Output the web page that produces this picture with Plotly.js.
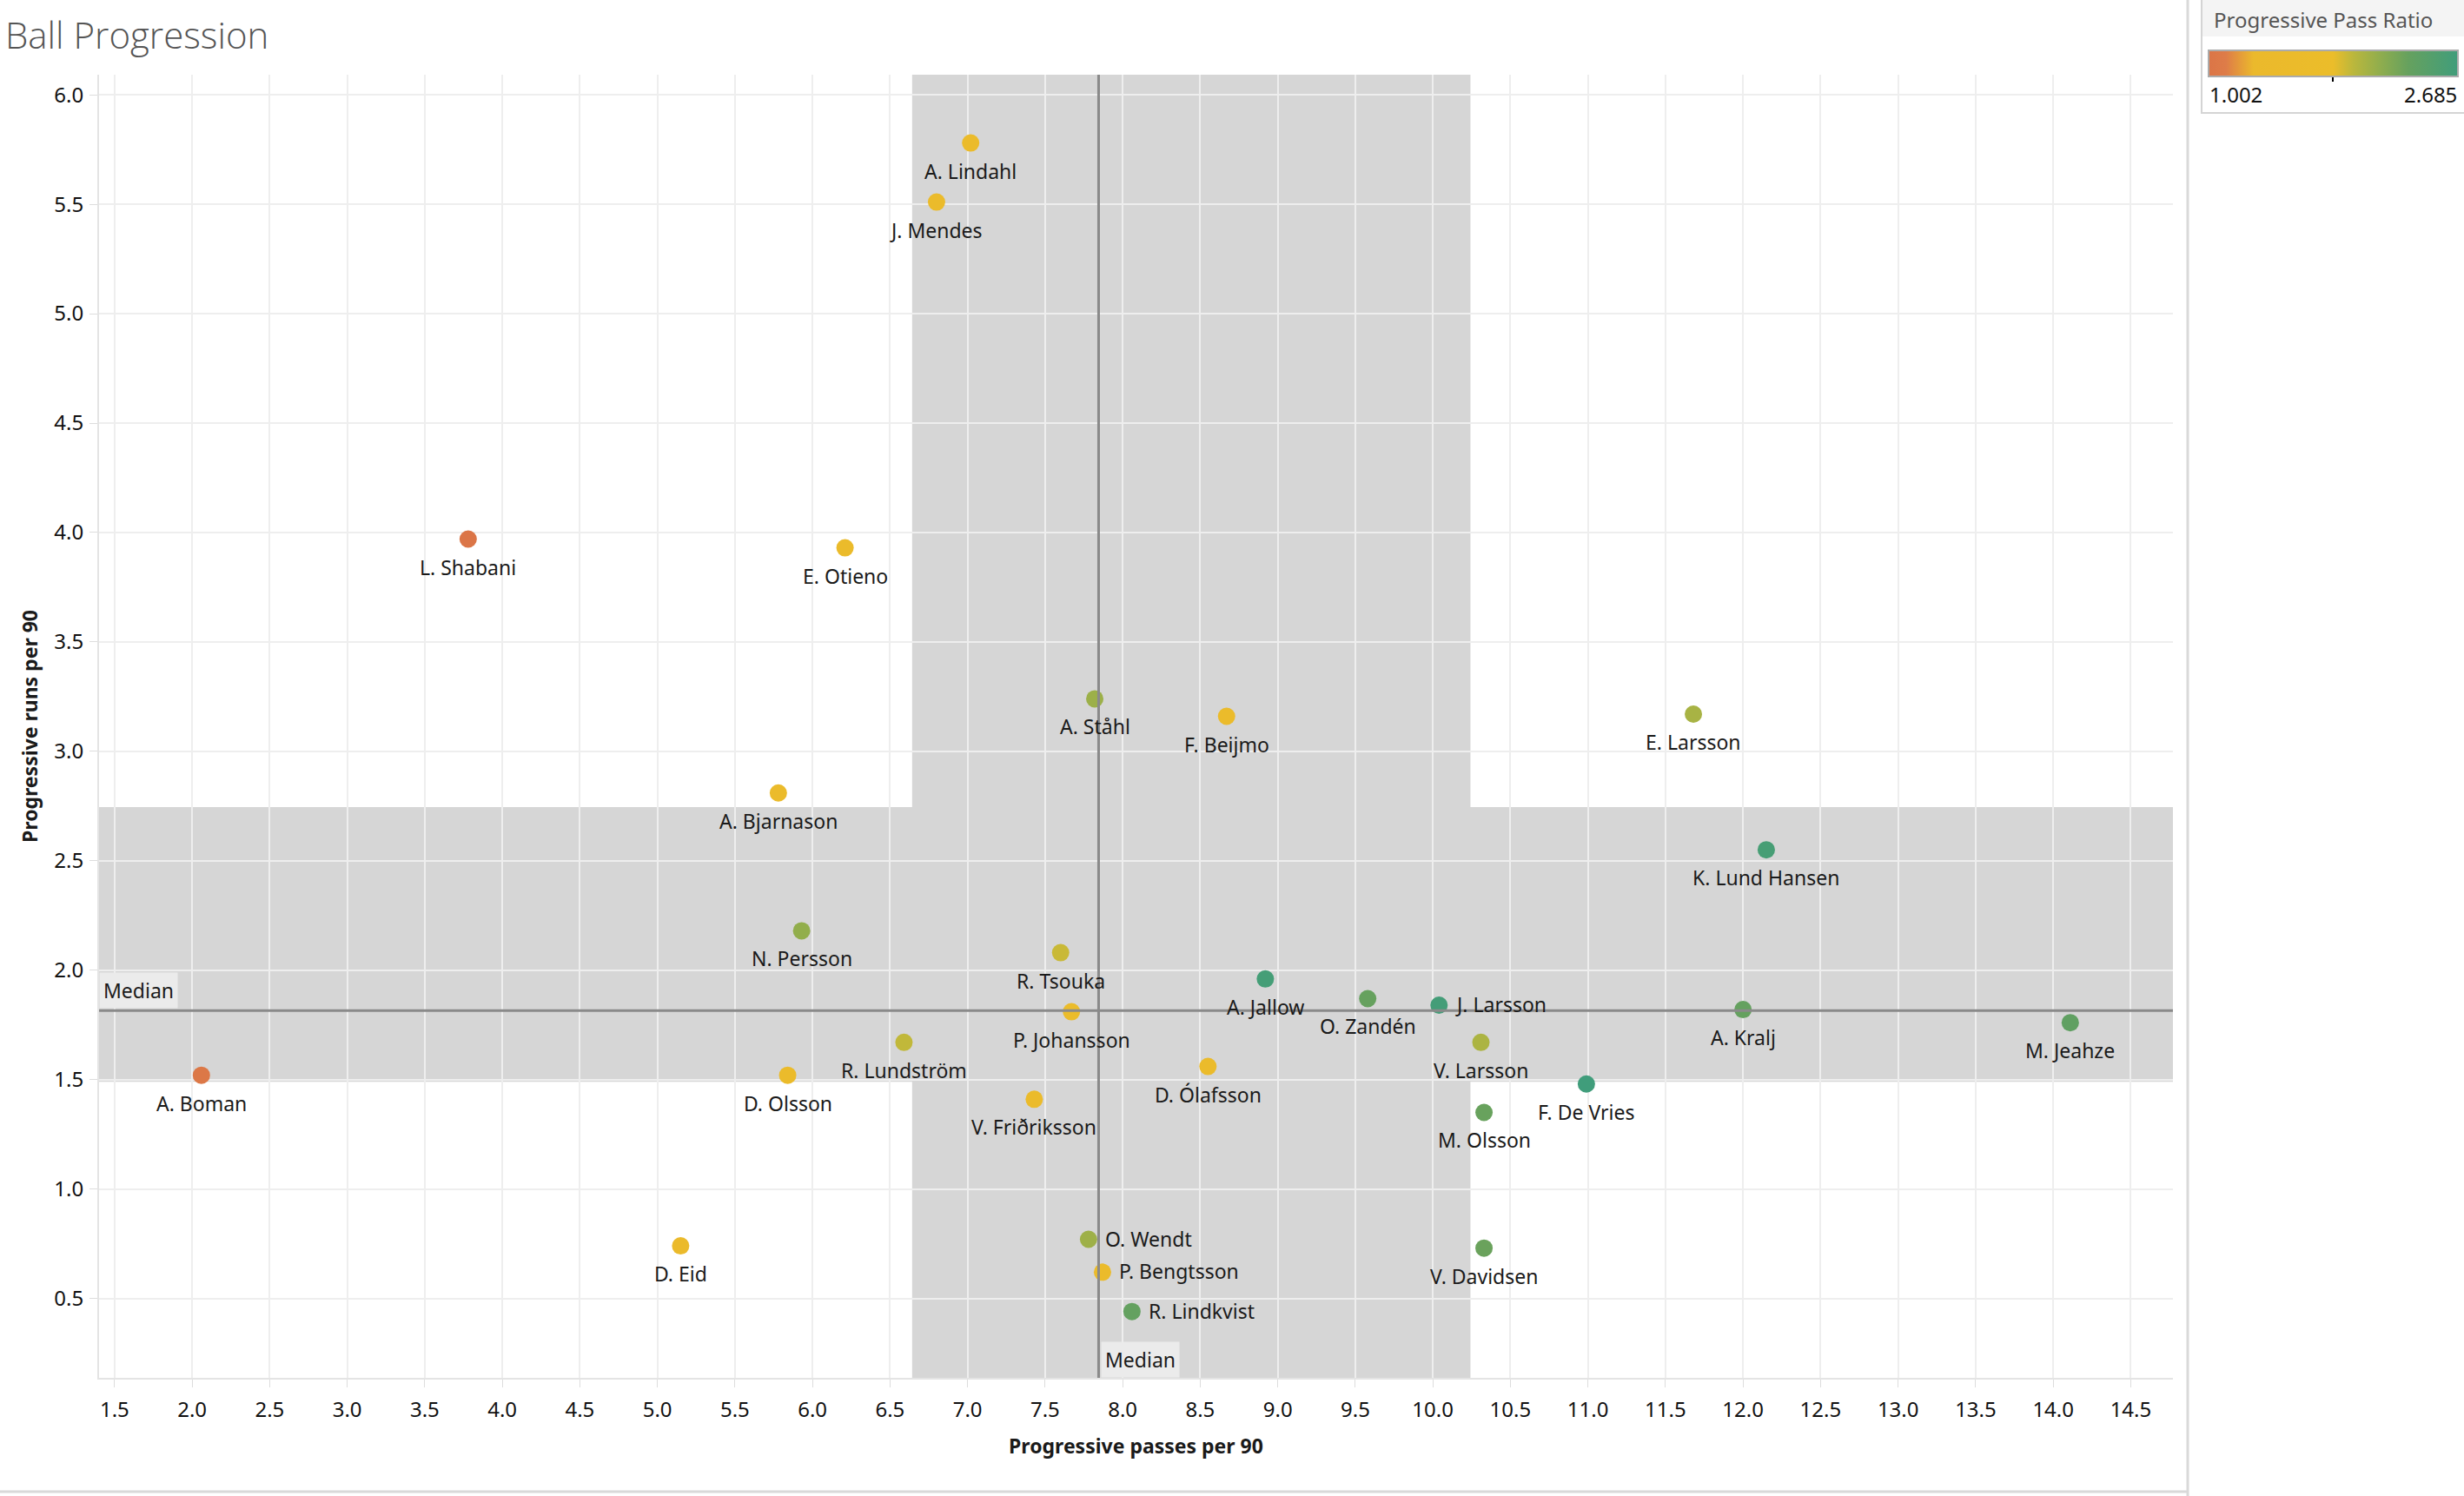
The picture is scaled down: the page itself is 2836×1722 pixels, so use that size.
<!DOCTYPE html>
<html>
<head>
<meta charset="utf-8">
<script src="https://cdn.plot.ly/plotly-3.0.1.min.js"></script>
<style>
html,body{margin:0;padding:0;background:#fff;overflow:hidden}
#chart{width:2836px;height:1722px}
</style>
</head>
<body>
<div id="chart"></div>
<script>
// ---------------- DATA ----------------
const players = [
  "A. Lindahl","J. Mendes","L. Shabani","E. Otieno","A. Ståhl","F. Beijmo","E. Larsson",
  "A. Bjarnason","K. Lund Hansen","N. Persson","R. Tsouka","A. Jallow","O. Zandén","J. Larsson",
  "A. Kralj","P. Johansson","M. Jeahze","R. Lundström","V. Larsson","D. Ólafsson","A. Boman",
  "D. Olsson","F. De Vries","V. Friðriksson","M. Olsson","O. Wendt","V. Davidsen","D. Eid",
  "P. Bengtsson","R. Lindkvist"
];
const progPasses = [
  7.02, 6.80, 3.78, 6.21, 7.82, 8.67, 11.68,
  5.78, 12.15, 5.93, 7.60, 8.92, 9.58, 10.04,
  12.00, 7.67, 14.11, 6.59, 10.31, 8.55, 2.06,
  5.84, 10.99, 7.43, 10.33, 7.78, 10.33, 5.15,
  7.87, 8.06
];
const progRuns = [
  5.78, 5.51, 3.97, 3.93, 3.24, 3.16, 3.17,
  2.81, 2.55, 2.18, 2.08, 1.96, 1.87, 1.84,
  1.82, 1.81, 1.76, 1.67, 1.67, 1.56, 1.52,
  1.52, 1.48, 1.41, 1.35, 0.77, 0.73, 0.74,
  0.62, 0.44
];
const passRatio = [
  1.55, 1.52, 1.002, 1.60, 2.11, 1.62, 2.06,
  1.57, 2.62, 2.15, 1.94, 2.64, 2.35, 2.65,
  2.36, 1.65, 2.40, 1.96, 2.04, 1.58, 1.06,
  1.54, 2.685, 1.56, 2.34, 2.10, 2.33, 1.50,
  1.60, 2.37
];
const xTickVals = [1.5,2.0,2.5,3.0,3.5,4.0,4.5,5.0,5.5,6.0,6.5,7.0,7.5,8.0,8.5,9.0,9.5,10.0,10.5,11.0,11.5,12.0,12.5,13.0,13.5,14.0,14.5];
const yTickVals = [0.5,1.0,1.5,2.0,2.5,3.0,3.5,4.0,4.5,5.0,5.5,6.0];
const colorMin = 1.002;
const colorMax = 2.685;

// label placement (style): these names are labelled to the right of the dot
const rightLabelled = ["J. Larsson","O. Wendt","P. Bengtsson","R. Lindkvist"];

// ---------------- HELPERS ----------------
function quantile(arr, q){
  const s = [...arr].sort((a,b)=>a-b);
  const pos = (s.length-1)*q, lo = Math.floor(pos), hi = Math.ceil(pos);
  return s[lo] + (s[hi]-s[lo])*(pos-lo);
}
const medX = quantile(progPasses, 0.5), medY = quantile(progRuns, 0.5);
const q1X = quantile(progPasses, 0.25), q3X = quantile(progPasses, 0.75);
const q1Y = quantile(progRuns, 0.25), q3Y = quantile(progRuns, 0.75);

const W = 2836, H = 1722;
const M = {l:114, r:335, t:86, b:136, autoexpand:false};
const xRange = [1.40, 14.772];
const yRange = [0.137, 6.092];
const pw = W - M.l - M.r, ph = H - M.t - M.b;
const px = X => (X - M.l)/pw;           // pixel -> paper x
const py = Y => (H - M.b - Y)/ph;       // pixel -> paper y

const FONT = "Noto Sans, Open Sans, sans-serif";
const TXT = '#1A1A1A';
const colorscale = [
  [0.00,'#DB7547'],[0.07,'#DE7C48'],[0.18,'#EBB92C'],[0.50,'#EBBD2A'],
  [0.58,'#BBB73C'],[0.68,'#93AE4C'],[0.80,'#66A15E'],[1.00,'#409D7B']
];

const trace = {
  type:'scatter', mode:'markers',
  x: progPasses, y: progRuns, text: players,
  cliponaxis:false,
  hoverinfo:'text',
  marker:{
    size:20, color: passRatio, cmin: colorMin, cmax: colorMax,
    colorscale: colorscale, line:{width:0},
    showscale:true,
    colorbar:{
      orientation:'h', xref:'paper', yref:'paper',
      x: px(2685), xanchor:'center', y: py(58), yanchor:'top',
      len:287, lenmode:'pixels', thickness:30, thicknessmode:'pixels',
      outlinecolor:'#ABABAB', outlinewidth:2, xpad:0, ypad:0,
      tickvals:[(colorMin+colorMax)/2], ticks:'outside', ticklen:5, tickwidth:2, tickcolor:'#000',
      showticklabels:false, title:{text:''}, bgcolor:'rgba(0,0,0,0)', borderwidth:0
    }
  }
};

const shapes = [
  // IQR bands (below gridlines)
  {type:'rect', xref:'x', yref:'y', x0:q1X, x1:q3X, y0:yRange[0], y1:yRange[1], fillcolor:'#D6D6D6', line:{width:0}, layer:'below'},
  {type:'rect', xref:'x', yref:'y', x0:xRange[0], x1:xRange[1], y0:q1Y, y1:q3Y, fillcolor:'#D6D6D6', line:{width:0}, layer:'below'},
  // median lines
  {type:'line', xref:'x', yref:'y', x0:medX, x1:medX, y0:yRange[0], y1:yRange[1], line:{color:'#8A8A8A', width:3}, layer:'above'},
  {type:'line', xref:'x', yref:'y', x0:xRange[0], x1:xRange[1], y0:medY, y1:medY, line:{color:'#8A8A8A', width:3}, layer:'above'},
  // pane separators
  {type:'line', xref:'paper', yref:'paper', x0:px(2518), x1:px(2518), y0:py(0), y1:py(1722), line:{color:'#D9D9D9', width:3}, layer:'above'},
  {type:'line', xref:'paper', yref:'paper', x0:px(0), x1:px(2518), y0:py(1717), y1:py(1717), line:{color:'#D9D9D9', width:3}, layer:'above'},
  // legend pane
  {type:'rect', xref:'paper', yref:'paper', x0:px(2534), x1:px(2840), y0:py(0), y1:py(42), fillcolor:'#F4F4F4', line:{width:0}, layer:'above'},
  {type:'rect', xref:'paper', yref:'paper', x0:px(2534), x1:px(2840), y0:py(-5), y1:py(130), fillcolor:'rgba(0,0,0,0)', line:{color:'#D4D4D4', width:2}, layer:'above'}
];

// point labels
const labelAnns = players.map((p,i) => {
  const right = rightLabelled.includes(p);
  return {
    xref:'x', yref:'y', x: progPasses[i], y: progRuns[i], text: p, showarrow:false,
    xanchor: right ? 'left' : 'center', yanchor:'middle',
    xshift: right ? 17 : 0, yshift: right ? 1 : -32,
    font:{family:FONT, size:23, color:TXT}
  };
});

const annotations = labelAnns.concat([
  {xref:'paper', yref:'y', x:0, y:medY, xanchor:'left', yanchor:'bottom', yshift:2,
   text:'Median', showarrow:false, bgcolor:'#EBEBEB', borderpad:4,
   font:{family:FONT, size:23, color:TXT}},
  {xref:'x', yref:'paper', x:medX, y:0, xanchor:'left', yanchor:'bottom', xshift:3,
   text:'Median', showarrow:false, bgcolor:'#EBEBEB', borderpad:4,
   font:{family:FONT, size:23, color:TXT}},
  {xref:'paper', yref:'paper', x:px(2546), y:py(22), xanchor:'left', yanchor:'middle',
   text:'Progressive Pass Ratio', showarrow:false, font:{family:FONT, size:24, color:'#555'}},
  {xref:'paper', yref:'paper', x:px(2541), y:py(109), xanchor:'left', yanchor:'middle',
   text:colorMin.toFixed(3), showarrow:false, font:{family:FONT, size:24, color:'#111'}},
  {xref:'paper', yref:'paper', x:px(2830), y:py(109), xanchor:'right', yanchor:'middle',
   text:colorMax.toFixed(3), showarrow:false, font:{family:FONT, size:24, color:'#111'}}
]);

const axisCommon = {
  showgrid:true, gridcolor:'#EEEEEE', gridwidth:2, zeroline:false,
  showline:true, linecolor:'#E4E4E4', linewidth:2,
  ticks:'outside', ticklen:9, tickwidth:1, tickcolor:'#DDDDDD',
  tickfont:{family:FONT, size:24, color:'#111111'},
  automargin:false, fixedrange:true
};

const layout = {
  width:W, height:H,
  margin:M,
  paper_bgcolor:'#FFFFFF', plot_bgcolor:'rgba(0,0,0,0)',
  showlegend:false,
  title:{text:'Ball Progression', xref:'container', yref:'container', x:6/W, xanchor:'left',
         y:1-41/H, yanchor:'middle', font:{family:'Open Sans, Noto Sans, sans-serif', size:42, color:'#555555', weight:300}},
  xaxis: Object.assign({}, axisCommon, {
    range:xRange, tickvals:xTickVals, ticktext:xTickVals.map(v=>v.toFixed(1)),
    ticklabelstandoff:5,
    title:{text:'Progressive passes per 90', standoff:20, font:{family:FONT, size:23, color:TXT, weight:'bold'}}
  }),
  yaxis: Object.assign({}, axisCommon, {
    range:yRange, tickvals:yTickVals, ticktext:yTickVals.map(v=>v.toFixed(1)),
    ticklabelstandoff:2,
    title:{text:'Progressive runs per 90', standoff:12, font:{family:FONT, size:23, color:TXT, weight:'bold'}}
  }),
  shapes:shapes,
  annotations:annotations,
  hovermode:'closest'
};

Plotly.newPlot('chart', [trace], layout, {displayModeBar:false, staticPlot:true});
</script>
</body>
</html>
